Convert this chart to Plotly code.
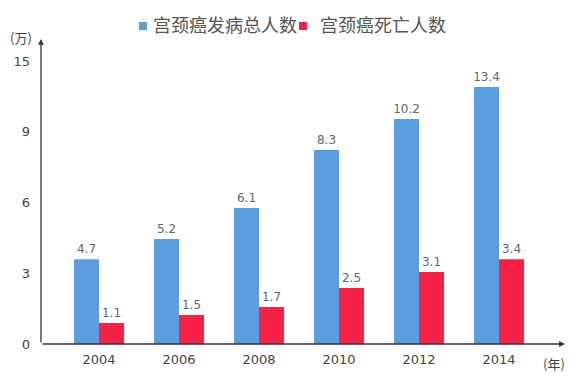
import plotly.graph_objects as go

years = ["2004", "2006", "2008", "2010", "2012", "2014"]
# bar heights as drawn in the picture (in axis units)
incidence_height = [3.6, 4.45, 5.77, 8.23, 9.55, 10.9]
death_height = [0.89, 1.23, 1.57, 2.38, 3.05, 3.6]
# value labels as printed above the bars
incidence_labels = ["4.7", "5.2", "6.1", "8.3", "10.2", "13.4"]
death_labels = ["1.1", "1.5", "1.7", "2.5", "3.1", "3.4"]
y_tickvals = [0, 3, 6, 9, 12]
y_ticktext = ["0", "3", "6", "9", "15"]
series_names = ["宫颈癌发病总人数", "宫颈癌死亡人数"]

BLUE = "#5B9DDF"
RED = "#F42245"
NUM_FONT = "DejaVu Sans, Verdana, sans-serif"
CJK_FONT = "Noto Sans CJK SC, sans-serif"

fig = go.Figure()
fig.add_trace(go.Bar(
    x=years, y=incidence_height, name=series_names[0],
    marker=dict(color=BLUE, line=dict(width=0)),
    text=incidence_labels, texttemplate="%{text}", textposition="outside",
    textfont=dict(family=NUM_FONT, size=12, color="#666666"),
    cliponaxis=False, constraintext="none",
))
fig.add_trace(go.Bar(
    x=years, y=death_height, name=series_names[1],
    marker=dict(color=RED, line=dict(width=0)),
    text=death_labels, texttemplate="%{text}", textposition="outside",
    textfont=dict(family=NUM_FONT, size=12, color="#666666"),
    cliponaxis=False, constraintext="none",
))

x_left, x_right = -0.725, 5.825
y_top = 12.94

# custom legend (small squares + labels) above the plot
legend_shapes = []
legend_annots = []
for color, name, sq_x, txt_x in [(BLUE, series_names[0], 98, 110),
                                  (RED, series_names[1], 258, 277)]:
    legend_shapes.append(dict(
        type="rect", xref="paper", yref="paper", xsizemode="pixel", ysizemode="pixel",
        xanchor=0, yanchor=1, x0=sq_x, x1=sq_x + 8, y0=9, y1=17,
        fillcolor=color, line=dict(width=0)))
    legend_annots.append(dict(
        x=0, y=1, xref="paper", yref="paper", xshift=txt_x, yshift=15,
        text=name, showarrow=False, xanchor="left", yanchor="middle",
        font=dict(family=CJK_FONT, size=18, color="#555555")))

# the page body adds an 8px offset, so the figure is 8px smaller than the window
fig.update_layout(
    width=572, height=372,
    margin=dict(l=33, r=15, t=31, b=36),
    paper_bgcolor="white", plot_bgcolor="white",
    barmode="group", bargap=0.375, bargroupgap=0,
    showlegend=False,
    xaxis=dict(type="category", range=[x_left, x_right], showgrid=False,
               showline=False, zeroline=False, ticks="",
               tickfont=dict(family=NUM_FONT, size=13, color="#444444"),
               ticklabelstandoff=6, automargin=False),
    yaxis=dict(range=[0, y_top], tickvals=y_tickvals, ticktext=y_ticktext,
               showgrid=False, showline=False, zeroline=False, ticks="",
               tickfont=dict(family=NUM_FONT, size=13, color="#444444"),
               ticklabelstandoff=10, automargin=False),
    font=dict(family=CJK_FONT),
    shapes=legend_shapes,
    annotations=[
        dict(x=x_left, y=y_top, xref="x", yref="y", ax=x_left, ay=0,
             axref="x", ayref="y", showarrow=True, arrowhead=2, arrowsize=0.9,
             arrowwidth=1.3, arrowcolor="#333333", text=""),
        dict(x=x_right, y=0, xref="x", yref="y", ax=x_left, ay=0,
             axref="x", ayref="y", showarrow=True, arrowhead=2, arrowsize=0.9,
             arrowwidth=1.3, arrowcolor="#333333", text=""),
        dict(x=0, y=1, xref="paper", yref="paper", xshift=-20, yshift=2,
             text="(万)", showarrow=False, xanchor="center", yanchor="middle",
             font=dict(family=CJK_FONT, size=13, color="#444444")),
        dict(x=1, y=0, xref="paper", yref="paper", xshift=-11, yshift=-19,
             text="(年)", showarrow=False, xanchor="center", yanchor="middle",
             font=dict(family=CJK_FONT, size=13, color="#444444")),
    ] + legend_annots,
)

fig.write_html("out.html")
